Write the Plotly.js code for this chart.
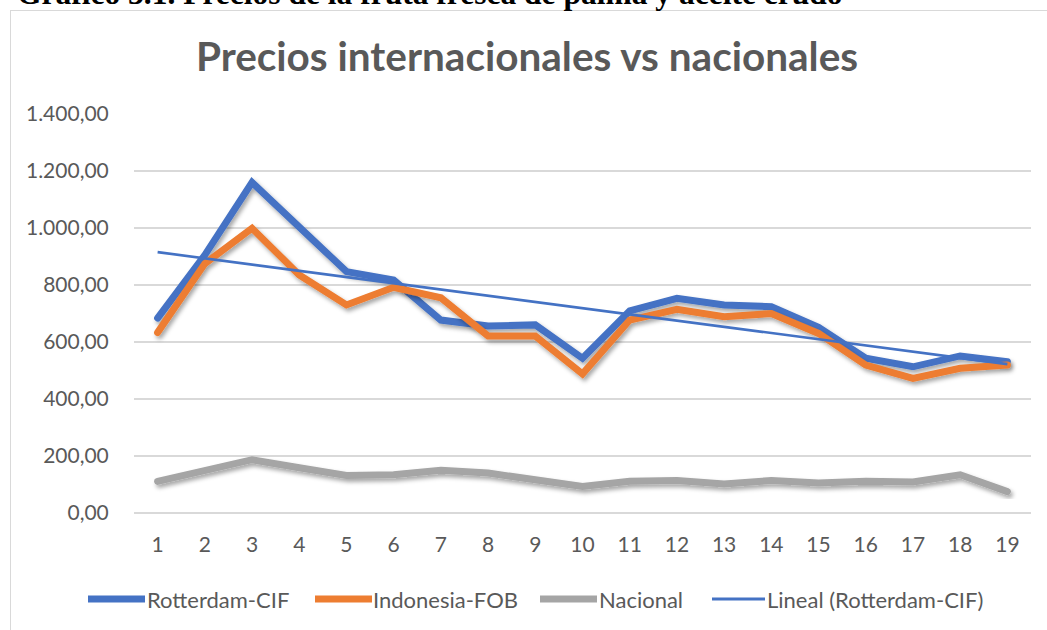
<!DOCTYPE html>
<html>
<head>
<meta charset="utf-8">
<script src="https://cdn.plot.ly/plotly-3.0.1.min.js"></script>
<style>
  html, body { margin: 0; padding: 0; width: 1047px; height: 630px; overflow: hidden; background: #fff; }
  #wrap { position: relative; width: 1047px; height: 630px; overflow: hidden; }
  #chart { position: absolute; left: 0; top: 0; width: 1047px; height: 630px; }
  #frame { position: absolute; left: 10px; top: 10px; width: 1100px; height: 700px; border: 1px solid #d9d9d9; pointer-events: none; }
  #hdr { position: absolute; left: 17px; top: -22px; font-family: "Liberation Serif", "Times New Roman", serif; font-weight: bold; font-size: 31.5px; line-height: 31.5px; color: #000; white-space: nowrap; }
</style>
</head>
<body>
<div id="wrap">
  <div id="chart"></div>
  <div id="frame"></div>
  <div id="hdr">Gráfico 3.1. Precios de la fruta fresca de palma y aceite crudo</div>
</div>
<script>
// ---- data ----
const categories = ['1','2','3','4','5','6','7','8','9','10','11','12','13','14','15','16','17','18','19'];
const rotterdamCIF = [684, 905, 1160, 1003, 847, 817, 677, 656, 660, 543, 709, 753, 730, 724, 651, 543, 513, 551, 531];
const indonesiaFOB = [633, 875, 999, 835, 730, 792, 755, 621, 621, 488, 677, 715, 689, 700, 630, 519, 472, 508, 519];
const nacional     = [111, 150, 187, 159, 132, 134, 150, 140, 114, 93, 111, 114, 102, 114, 105, 111, 109, 134, 75];
const seriesNames  = ['Rotterdam-CIF', 'Indonesia-FOB', 'Nacional', 'Lineal (Rotterdam-CIF)'];
const yTicks = [0, 200, 400, 600, 800, 1000, 1200, 1400];

// linear trend of Rotterdam-CIF (least squares on index 1..n)
const n = rotterdamCIF.length;
const xs = rotterdamCIF.map((_, i) => i + 1);
const mx = xs.reduce((a, b) => a + b, 0) / n;
const my = rotterdamCIF.reduce((a, b) => a + b, 0) / n;
let sxy = 0, sxx = 0;
for (let i = 0; i < n; i++) { sxy += (xs[i] - mx) * (rotterdamCIF[i] - my); sxx += (xs[i] - mx) ** 2; }
const slope = sxy / sxx, icpt = my - slope * mx;
const trendY = [icpt + slope * xs[0], icpt + slope * xs[n - 1]];
const trendX = [categories[0], categories[n - 1]];

// ---- style ----
const colors = ['#4472C4', '#ED7D31', '#A5A5A5', '#4472C4'];
const widths = [7, 7, 7, 2.6];
const txt = '#595959';
const FONT = 'Lato, "Open Sans", sans-serif';

// plot area in pixels
const W = 1047, H = 630, L = 134, R = 1031, T = 114, B = 513;
const px = x => (x - L) / (R - L);
const py = y => (B - y) / (B - T);

const traces = [
  { x: categories, y: rotterdamCIF, name: seriesNames[0] },
  { x: categories, y: indonesiaFOB, name: seriesNames[1] },
  { x: categories, y: nacional, name: seriesNames[2] },
  { x: trendX, y: trendY, name: seriesNames[3] }
].map((t, i) => Object.assign(t, {
  type: 'scatter', mode: 'lines', hoverinfo: 'skip',
  line: { color: colors[i], width: widths[i], shape: 'linear' }
}));

// custom legend
const legY = py(599);
const legItems = [
  { x0: 88, x1: 145, tx: 146 },
  { x0: 315, x1: 372, tx: 372 },
  { x0: 540, x1: 597, tx: 598 },
  { x0: 712, x1: 765, tx: 766 }
];
const shapes = legItems.map((it, i) => ({
  type: 'line', xref: 'paper', yref: 'paper',
  x0: px(it.x0), x1: px(it.x1), y0: legY, y1: legY,
  line: { color: colors[i], width: i < 3 ? 7 : 3 }
}));
const annotations = legItems.map((it, i) => ({
  xref: 'paper', yref: 'paper', x: px(it.tx), y: legY,
  xanchor: 'left', yanchor: 'middle', showarrow: false,
  text: seriesNames[i], font: { family: FONT, size: 22, color: txt }, borderpad: 0
}));

const layout = {
  width: W, height: H,
  margin: { l: L, r: W - R, t: T, b: H - B, pad: 0 },
  paper_bgcolor: 'rgba(0,0,0,0)', plot_bgcolor: 'rgba(0,0,0,0)',
  separators: ',.',
  showlegend: false,
  title: {
    text: 'Precios internacionales vs nacionales',
    xref: 'container', yref: 'container', x: 527 / W, y: 1 - 57 / H,
    xanchor: 'center', yanchor: 'middle',
    font: { family: FONT, size: 40.5, color: txt, weight: 700 }
  },
  xaxis: {
    type: 'category', range: [-0.5, n - 0.5],
    showgrid: false, zeroline: false, showline: false,
    ticks: 'outside', ticklen: 13, tickcolor: 'rgba(0,0,0,0)',
    tickfont: { family: FONT, size: 21, color: txt }
  },
  yaxis: {
    range: [0, 1400], tickvals: yTicks, tickformat: ',.2f',
    showgrid: true, gridcolor: '#d9d9d9', gridwidth: 1.3,
    zeroline: true, zerolinecolor: '#d9d9d9', zerolinewidth: 1.3,
    showline: false,
    ticks: 'outside', ticklen: 20, tickcolor: 'rgba(0,0,0,0)',
    tickfont: { family: FONT, size: 21, color: txt }
  },
  shapes: shapes,
  annotations: annotations
};

Plotly.newPlot('chart', traces, layout, { staticPlot: true, displayModeBar: false }).then(gd => {
  const svg = gd.querySelector('.main-svg');
  const NS = 'http://www.w3.org/2000/svg';
  let defs = svg.querySelector('defs');
  if (!defs) { defs = document.createElementNS(NS, 'defs'); svg.insertBefore(defs, svg.firstChild); }
  const f = document.createElementNS(NS, 'filter');
  f.setAttribute('id', 'lineShadow');
  f.setAttribute('x', '-10%'); f.setAttribute('y', '-10%');
  f.setAttribute('width', '120%'); f.setAttribute('height', '130%');
  const ds = document.createElementNS(NS, 'feDropShadow');
  ds.setAttribute('dx', '2'); ds.setAttribute('dy', '3');
  ds.setAttribute('stdDeviation', '2');
  ds.setAttribute('flood-color', '#000'); ds.setAttribute('flood-opacity', '0.35');
  f.appendChild(ds); defs.appendChild(f);
  gd.querySelectorAll('.scatterlayer .trace').forEach((t, i) => {
    if (i < 3) { const p = t.querySelector('path.js-line'); if (p) { p.setAttribute('filter', 'url(#lineShadow)'); p.style.strokeLinecap = 'round'; } }
  });
});
</script>
</body>
</html>
